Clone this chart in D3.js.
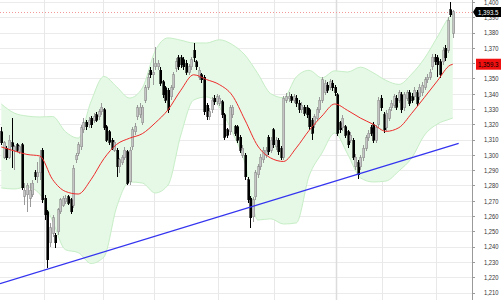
<!DOCTYPE html>
<html>
<head>
<meta charset="utf-8">
<script src="https://cdn.jsdelivr.net/npm/d3@7"></script>
<style>
  body { margin: 0; background: #fff; }
  svg { display: block; }
  text { font-family: "Liberation Sans", Arial, sans-serif; }
</style>
</head>
<body>
<div id="chart"></div>
<script>
// daily candles
var opens = [1315,1298.6,1304.5,1298.6,1307.8,1303.2,1306.5,1301.9,1306.5,1273.1,1273.8,1271.8,1273.8,1288.2,1285.6,1288.2,1303.2,1271.8,1262.7,1242.4,
  1248.9,1247.6,1249.6,1262.7,1267.2,1269.2,1272.5,1270.5,1267.2,1296.7,1301.2,1305.2,1316.3,1321.5,1319.6,1324.1,1322.8,1326.1,1324.8,1328.1,
  1329.4,1318.3,1315,1309.7,1303.2,1303.2,1292.1,1294.7,1298,1301.9,1282.3,1305.2,1315,1324.8,1326.1,1320.9,1335.9,1344.4,1355.5,1352.3,
  1357.5,1357.5,1355.5,1347.7,1343.8,1342.4,1337.9,1343.8,1356.8,1363.4,1363.4,1362.1,1360.1,1354.2,1357.5,1368.6,1360.8,1350.9,1352.3,1350.9,
  1332.6,1324.8,1329.4,1337.2,1334.6,1333.9,1334.6,1326.1,1316.3,1315,1326.1,1318.3,1318.3,1311.7,1299.9,1299.9,1283.6,1271.8,1259.5,1272.5,
  1286.9,1292.1,1296.7,1299.9,1311.7,1303.2,1316.3,1305.2,1309.7,1304.5,1298.6,1335.9,1336.6,1337.9,1335.9,1337.2,1333.9,1329.4,1331.3,1330.7,
  1329.4,1322.8,1319.6,1324.1,1329.4,1335.9,1341.1,1345.7,1344.4,1347,1344.4,1339.2,1320.9,1317.6,1318.3,1315,1309.7,1309.7,1292.1,1294.7,
  1292.1,1298,1304.5,1311.1,1317.6,1319.6,1309.7,1319.6,1337.2,1326.1,1317.6,1324.1,1330.7,1332.6,1337.2,1335.9,1339.2,1330.7,1337.2,1340.5,
  1338.5,1337.9,1340.5,1337.9,1340.5,1344.4,1349,1350.9,1357.5,1364,1363.4,1360.8,1360.8,1369.9,1368.6,1394.8,1379.7];
var highs = [1318.3,1309.1,1305.8,1313,1324.1,1306.5,1307.8,1306.5,1307.8,1281.6,1281.6,1281.6,1283.6,1290.1,1295.4,1303.2,1304.5,1273.8,1264,1255.5,
  1260.8,1248.9,1265.3,1271.8,1273.1,1273.8,1273.8,1271.8,1293.4,1301.2,1308.4,1319.6,1324.1,1322.8,1324.8,1325.4,1327.4,1328.1,1330,1333.9,
  1330.7,1319.6,1316.3,1311.1,1309.7,1304.5,1298,1299.9,1305.2,1303.2,1305.2,1318.3,1320.9,1332.6,1333.9,1332.6,1345.7,1353.6,1357.5,1363.4,
  1370.6,1362.1,1357.5,1349,1345.1,1343.8,1345.7,1354.2,1363.4,1365.3,1365.3,1364,1362.1,1359.5,1364,1373.2,1362.1,1357.5,1353.6,1352.3,
  1333.9,1330.7,1337.9,1339.2,1339.8,1339.2,1335.9,1327.4,1317.6,1332.6,1332.6,1319.6,1319.6,1313,1306.5,1301.2,1285.6,1273.1,1272.5,1290.1,
  1294,1300.6,1305.2,1305.2,1313,1311.7,1317.6,1311.7,1311.1,1305.8,1338.5,1340.5,1341.1,1339.8,1339.8,1339.2,1335.9,1334.6,1332.6,1332.6,
  1330.7,1324.1,1326.7,1331.3,1337.9,1350.9,1349,1347.7,1349.6,1349,1345.7,1340.5,1322.2,1326.1,1319.6,1316.3,1315,1311.1,1300.6,1296.7,
  1299.9,1306.5,1313,1316.3,1319.6,1321.5,1319.6,1337.9,1339.2,1328.1,1329.4,1331.3,1335.9,1339.8,1339.2,1342.4,1341.1,1341.1,1342.4,1342.4,
  1340.5,1344.4,1342.4,1346.4,1347.7,1350.9,1352.9,1356.2,1366,1366,1365.3,1362.7,1370.6,1371.9,1390.2,1400,1394.8];
var lows = [1306.5,1297.3,1296.7,1297.3,1291.4,1290.1,1301.9,1300.6,1277,1267.2,1262.7,1265.9,1272.5,1283.6,1281.6,1283.6,1268.5,1257.4,1226,1239.8,
  1246.3,1239.1,1247.6,1261.4,1265.9,1267.9,1267.2,1261.4,1265.3,1294.7,1299.3,1303.2,1314.3,1316.3,1317.6,1317.6,1320.9,1321.5,1322.8,1326.1,
  1316.3,1308.4,1306.5,1303.2,1301.9,1285.6,1288.2,1293.4,1296.7,1280.3,1280.3,1303.2,1313,1322.8,1324.1,1319.6,1333.9,1342.4,1350.3,1345.7,
  1355.5,1355.5,1345.1,1337.2,1333.9,1327.4,1335.9,1342.4,1354.2,1355.5,1356.8,1355.5,1352.3,1352.3,1355.5,1360.8,1355.5,1349,1347,1326.1,
  1322.8,1322.8,1327.4,1332.6,1332.6,1332,1324.1,1309.7,1311.1,1313,1324.1,1312.4,1307.8,1301.2,1298,1283.6,1268.5,1252.2,1256.1,1270.5,
  1284.9,1290.1,1294.7,1298,1299.9,1301.2,1304.5,1303.2,1299.9,1296.7,1296.7,1333.9,1334.6,1333.9,1333.9,1331.3,1327.4,1327.4,1325.4,1324.1,
  1316.3,1309.7,1317.6,1322.2,1327.4,1333.9,1339.2,1340.5,1342.4,1341.8,1338.5,1312.4,1314.3,1315.6,1311.1,1304.5,1307.8,1296.7,1290.1,1284.3,
  1290.1,1296,1302.6,1309.1,1312.4,1307.8,1307.8,1317.6,1328.7,1314.3,1315.6,1322.2,1328.7,1330.7,1329.4,1333.9,1327.4,1328.7,1335.3,1332,
  1333.9,1335.9,1332,1335.9,1338.5,1342.4,1347,1349,1355.5,1358.8,1350.9,1350.3,1358.8,1361.4,1366.6,1390.2,1376.5];
var closes = [1307.8,1307.8,1298,1309.7,1305.2,1305.2,1303.2,1305.2,1278.4,1277,1280.3,1277,1281.6,1285.6,1288.2,1298.6,1270.5,1260.8,1231.3,1252.2,
  1258.8,1242.4,1264,1270.5,1271.8,1271.8,1268.5,1262.7,1291.4,1299.9,1306.5,1317.6,1320.9,1318.3,1322.8,1319.6,1324.8,1322.8,1328.1,1331.3,
  1317.6,1309.7,1308.4,1304.5,1308.4,1292.1,1296.7,1298.6,1303.2,1281.6,1303.2,1316.3,1318.3,1330.7,1331.3,1331.3,1343.8,1350.9,1352.3,1354.2,
  1360.1,1360.1,1347,1339.2,1335.9,1329.4,1343.8,1352.3,1360.8,1357.5,1358.8,1357.5,1354.2,1357.5,1362.1,1363.4,1357.5,1355.5,1349,1328.1,
  1324.8,1328.1,1335.9,1334.6,1337.9,1337.2,1326.1,1311.7,1313,1330.7,1331.3,1314.3,1309.7,1303.2,1304.5,1285.6,1270.5,1258.8,1270.5,1288.2,
  1292.1,1298.6,1303.2,1303.2,1301.9,1309.7,1306.5,1309.7,1301.9,1298,1337.2,1337.9,1338.5,1335.9,1337.9,1333.9,1329.4,1332.6,1327.4,1326.1,
  1318.3,1314.3,1324.8,1329.4,1335.9,1349,1347,1342.4,1347.7,1343.8,1340.5,1314.3,1316.3,1324.1,1313,1306.5,1313,1298.6,1298.6,1286.9,
  1298,1304.5,1311.1,1314.3,1314.3,1309.7,1317.6,1335.9,1330.7,1316.3,1327.4,1329.4,1333.9,1337.9,1331.3,1340.5,1329.4,1339.2,1340.5,1333.9,
  1335.9,1342.4,1333.9,1344.4,1345.7,1349,1350.9,1354.2,1364,1360.8,1358.8,1352.3,1368.6,1363.4,1388.2,1391.5,1393.5];

// moving average and bollinger bands, read every 5 bars
var bandIdx = [0,5,10,15,20,25,30,35,40,45,50,55,60,65,70,75,80,85,90,95,100,105,110,115,120,125,130,135,140,145,150,155,160,165,170,175,176];
var maVals = [1305.2,1302.6,1300.3,1299.3,1283.9,1276.1,1274.4,1283.9,1297.5,1306.9,1310.9,1313.9,1320.9,1329.5,1342.3,1352.4,1349.3,1346,1339,1322.8,
  1305.8,1298,1295.7,1304.6,1316,1325.4,1333.3,1329.1,1324.1,1320,1315.4,1317.8,1327.2,1337.7,1348.4,1358.7,1359.3];
var upperVals = [1333.3,1327.4,1325.4,1324.8,1325.1,1315.2,1311,1335,1351.3,1344.5,1337.2,1343.8,1368,1376.5,1375,1373.2,1373.2,1375.3,1372.2,1365.3,
  1353.2,1340.1,1337.4,1351,1355.3,1350.4,1355,1354.2,1357.4,1353.7,1348.7,1346.1,1352.9,1363.2,1377.1,1390.8,1392.2];
var lowerVals = [1278.4,1277.7,1279,1274.4,1256.7,1238,1236.1,1229,1233.2,1266,1282.3,1281.6,1275.1,1280.3,1313,1335.9,1337.9,1331.3,1315,1294.7,
  1257.4,1258.2,1254.8,1255.5,1286.2,1301.2,1314.3,1300.6,1285,1282.3,1282.9,1289.5,1298,1313,1320.2,1323.5,1324.1];

// first bar of each month (vertical grid)
var monthStarts = [17, 40, 60, 85, 107, 131, 149, 170];

// support trend line
var trendIdx = [-0.5, 178.3];
var trendVals = [1215.8, 1307.6];

var lastPrice = 1393.5;
var lastMA = 1359.3;
var yTicks = d3.range(1210, 1401, 10);

var width = 501, height = 300,
    plotW = 472;

var svg = d3.select("#chart").append("svg")
    .attr("width", width)
    .attr("height", height);

var x = d3.scaleLinear().domain([-0.5, 183.5]).range([0, plotW]);
var y = d3.scaleLinear().domain([1210, 1400]).range([292.5, 2]);

var fmt = d3.format(",");
var fmt1 = d3.format(",.1f");

// grid
svg.append("g").selectAll("line")
    .data(yTicks)
  .enter().append("line")
    .attr("x1", 0).attr("x2", plotW)
    .attr("y1", function(d) { return Math.round(y(d)) + 0.5; })
    .attr("y2", function(d) { return Math.round(y(d)) + 0.5; })
    .attr("stroke", "#ebebeb");

svg.append("g").selectAll("line")
    .data(monthStarts)
  .enter().append("line")
    .attr("x1", function(d) { return Math.round(x(d - 0.5)) + 0.5; })
    .attr("x2", function(d) { return Math.round(x(d - 0.5)) + 0.5; })
    .attr("y1", 0).attr("y2", height)
    .attr("stroke", function(d) { return d === 131 ? "#dcdcdc" : "#e8e8e8"; })
    .attr("stroke-width", function(d) { return d === 131 ? 1.5 : 1; });

// bollinger band
var bandData = bandIdx.map(function(d, i) {
  return {i: d, ma: maVals[i], up: upperVals[i], lo: lowerVals[i]};
});

svg.append("path")
    .datum(bandData)
    .attr("fill", "#e6f9e6")
    .attr("d", d3.area().curve(d3.curveMonotoneX)
      .x(function(d) { return x(d.i); })
      .y0(function(d) { return y(d.lo); })
      .y1(function(d) { return y(d.up); }));

["up", "lo"].forEach(function(k) {
  svg.append("path")
      .datum(bandData)
      .attr("fill", "none")
      .attr("stroke", "#c6eec6")
      .attr("stroke-width", 1)
      .attr("d", d3.line().curve(d3.curveMonotoneX)
        .x(function(d) { return x(d.i); })
        .y(function(d) { return y(d[k]); }));
});

// last price dotted line
svg.append("line")
    .attr("x1", 0).attr("x2", plotW)
    .attr("y1", Math.round(y(lastPrice)) + 0.5)
    .attr("y2", Math.round(y(lastPrice)) + 0.5)
    .attr("stroke", "#f29a9a")
    .attr("stroke-dasharray", "1,2");

// candles
var candles = opens.map(function(o, i) {
  return {i: i, o: o, h: highs[i], l: lows[i], c: closes[i]};
});

var cg = svg.append("g").attr("shape-rendering", "crispEdges");

cg.selectAll(".wick")
    .data(candles)
  .enter().append("line")
    .attr("class", "wick")
    .attr("x1", function(d) { return Math.round(x(d.i)) + 0.5; })
    .attr("x2", function(d) { return Math.round(x(d.i)) + 0.5; })
    .attr("y1", function(d) { return y(d.h); })
    .attr("y2", function(d) { return y(d.l); })
    .attr("stroke", function(d) { return d.c >= d.o ? "#9a9a9a" : "#000"; });

cg.selectAll(".body")
    .data(candles)
  .enter().append("rect")
    .attr("class", "body")
    .attr("x", function(d) { return Math.round(x(d.i)) - 0.5; })
    .attr("width", 2)
    .attr("y", function(d) { return y(Math.max(d.o, d.c)); })
    .attr("height", function(d) { return Math.max(1, y(Math.min(d.o, d.c)) - y(Math.max(d.o, d.c))); })
    .attr("fill", function(d) { return d.c >= d.o ? "#c4c4c4" : "#000"; })
    .attr("stroke", function(d) { return d.c >= d.o ? "#8c8c8c" : "#000"; })
    .attr("stroke-width", 0.6);

// moving average
svg.append("path")
    .datum(bandData)
    .attr("fill", "none")
    .attr("stroke", "#ee2b2b")
    .attr("stroke-width", 1)
    .attr("d", d3.line().curve(d3.curveMonotoneX)
      .x(function(d) { return x(d.i); })
      .y(function(d) { return y(d.ma); }));

// trend line
svg.append("line")
    .attr("x1", x(trendIdx[0])).attr("y1", y(trendVals[0]))
    .attr("x2", x(trendIdx[1])).attr("y2", y(trendVals[1]))
    .attr("stroke", "#3434f0")
    .attr("stroke-width", 1.3);

// right axis
var axis = svg.append("g");
axis.append("line")
    .attr("x1", plotW + 0.5).attr("x2", plotW + 0.5)
    .attr("y1", 0).attr("y2", height)
    .attr("stroke", "#9a9a9a");

axis.selectAll(".tick")
    .data(yTicks)
  .enter().append("line")
    .attr("x1", plotW + 1).attr("x2", plotW + 3)
    .attr("y1", function(d) { return Math.round(y(d)) + 0.5; })
    .attr("y2", function(d) { return Math.round(y(d)) + 0.5; })
    .attr("stroke", "#9a9a9a");

// 1,360 sits under the MA tag in the original, so it is not printed
axis.selectAll(".lbl")
    .data(yTicks.filter(function(d) { return d !== 1360; }))
  .enter().append("text")
    .attr("x", 484)
    .attr("y", function(d) { return y(d) + 2.8; })
    .attr("font-size", "7px")
    .attr("textLength", 14.5)
    .attr("lengthAdjust", "spacingAndGlyphs")
    .attr("fill", "#333")
    .text(function(d) { return fmt(d); });

// MA value tag
var ym = y(lastMA);
svg.append("rect")
    .attr("x", 476).attr("y", ym - 5.5)
    .attr("width", 25).attr("height", 11)
    .attr("fill", "#f01010");
svg.append("text")
    .attr("x", 478).attr("y", ym + 2.8)
    .attr("font-size", "7px")
    .attr("textLength", 20.5)
    .attr("lengthAdjust", "spacingAndGlyphs")
    .attr("fill", "#000")
    .text(fmt1(lastMA));

// last price tag
var yp = y(lastPrice);
svg.append("path")
    .attr("d", "M" + (plotW + 1) + "," + yp + "L476," + (yp - 5) + "L501," + (yp - 5) +
               "L501," + (yp + 5) + "L476," + (yp + 5) + "Z")
    .attr("fill", "#000");
svg.append("text")
    .attr("x", 478).attr("y", yp + 2.8)
    .attr("font-size", "7px")
    .attr("textLength", 20.5)
    .attr("lengthAdjust", "spacingAndGlyphs")
    .attr("fill", "#fff")
    .text(fmt1(lastPrice));
</script>
</body>
</html>
